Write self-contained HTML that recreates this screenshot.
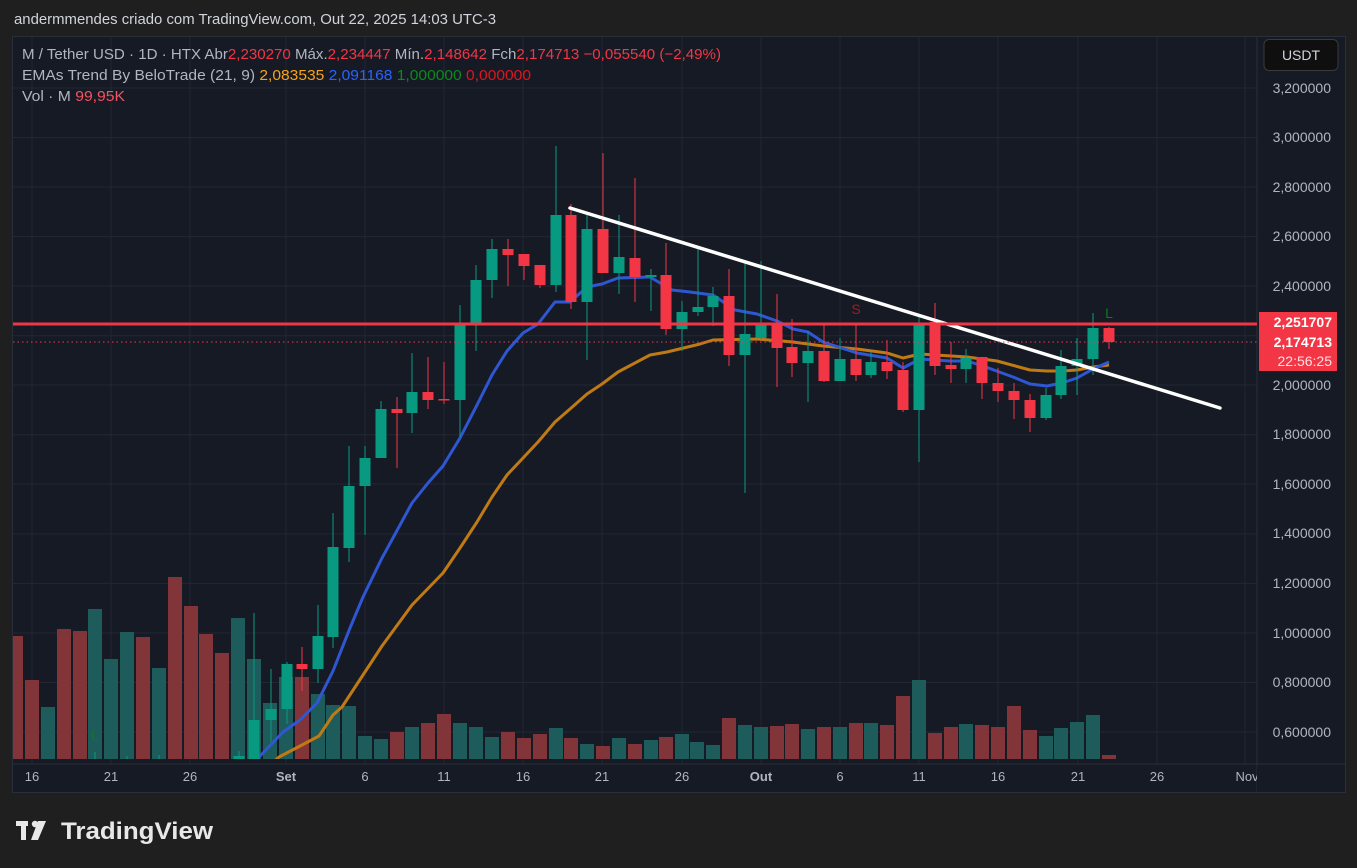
<!DOCTYPE html>
<html><head><meta charset="utf-8"><style>
body{margin:0;width:1357px;height:868px;background:#1f1f1f;overflow:hidden;font-family:"Liberation Sans",sans-serif}
</style></head><body>
<svg width="1357" height="868" xmlns="http://www.w3.org/2000/svg" style="position:absolute;left:0;top:0">
<defs><clipPath id="p"><rect x="13" y="37" width="1244" height="722"/></clipPath></defs>
<text x="14" y="24" fill="#d1d4dc" font-size="15" textLength="482" lengthAdjust="spacingAndGlyphs">andermmendes criado com TradingView.com, Out 22, 2025 14:03 UTC-3</text>
<rect x="12.5" y="36.5" width="1333" height="756" fill="#161a25" stroke="#2a2e39"/>
<line x1="1257" y1="37" x2="1257" y2="792" stroke="#2a2e39"/>
<line x1="13" y1="764" x2="1345" y2="764" stroke="#2a2e39"/>
<g stroke="#232733" stroke-width="1">
<line x1="13" y1="88" x2="1257" y2="88"/><line x1="13" y1="137.5" x2="1257" y2="137.5"/><line x1="13" y1="187" x2="1257" y2="187"/><line x1="13" y1="236.6" x2="1257" y2="236.6"/><line x1="13" y1="286" x2="1257" y2="286"/><line x1="13" y1="335.7" x2="1257" y2="335.7"/><line x1="13" y1="385" x2="1257" y2="385"/><line x1="13" y1="434.8" x2="1257" y2="434.8"/><line x1="13" y1="484" x2="1257" y2="484"/><line x1="13" y1="533.9" x2="1257" y2="533.9"/><line x1="13" y1="583.4" x2="1257" y2="583.4"/><line x1="13" y1="633" x2="1257" y2="633"/><line x1="13" y1="682.5" x2="1257" y2="682.5"/><line x1="13" y1="732" x2="1257" y2="732"/>
<line x1="32" y1="37" x2="32" y2="764"/><line x1="111" y1="37" x2="111" y2="764"/><line x1="190" y1="37" x2="190" y2="764"/><line x1="286" y1="37" x2="286" y2="764"/><line x1="365" y1="37" x2="365" y2="764"/><line x1="444" y1="37" x2="444" y2="764"/><line x1="523" y1="37" x2="523" y2="764"/><line x1="602" y1="37" x2="602" y2="764"/><line x1="682" y1="37" x2="682" y2="764"/><line x1="761" y1="37" x2="761" y2="764"/><line x1="840" y1="37" x2="840" y2="764"/><line x1="919" y1="37" x2="919" y2="764"/><line x1="998" y1="37" x2="998" y2="764"/><line x1="1078" y1="37" x2="1078" y2="764"/><line x1="1157" y1="37" x2="1157" y2="764"/><line x1="1245" y1="37" x2="1245" y2="764"/>
</g>
<g clip-path="url(#p)">
<g fill="#823539">
<rect x="9" y="636" width="14" height="123"/><rect x="25" y="680" width="14" height="79"/><rect x="57" y="629" width="14" height="130"/><rect x="73" y="631" width="14" height="128"/><rect x="136" y="637" width="14" height="122"/><rect x="168" y="577" width="14" height="182"/><rect x="184" y="606" width="14" height="153"/><rect x="199" y="634" width="14" height="125"/><rect x="215" y="653" width="14" height="106"/><rect x="295" y="677" width="14" height="82"/><rect x="390" y="732" width="14" height="27"/><rect x="421" y="723" width="14" height="36"/><rect x="437" y="714" width="14" height="45"/><rect x="501" y="732" width="14" height="27"/><rect x="517" y="738" width="14" height="21"/><rect x="533" y="734" width="14" height="25"/><rect x="564" y="738" width="14" height="21"/><rect x="596" y="746" width="14" height="13"/><rect x="628" y="744" width="14" height="15"/><rect x="659" y="737" width="14" height="22"/><rect x="722" y="718" width="14" height="41"/><rect x="770" y="726" width="14" height="33"/><rect x="785" y="724" width="14" height="35"/><rect x="817" y="727" width="14" height="32"/><rect x="849" y="723" width="14" height="36"/><rect x="880" y="725" width="14" height="34"/><rect x="896" y="696" width="14" height="63"/><rect x="928" y="733" width="14" height="26"/><rect x="944" y="727" width="14" height="32"/><rect x="975" y="725" width="14" height="34"/><rect x="991" y="727" width="14" height="32"/><rect x="1007" y="706" width="14" height="53"/><rect x="1023" y="730" width="14" height="29"/><rect x="1102" y="755" width="14" height="4"/>
</g>
<g fill="#1e5c5b">
<rect x="41" y="707" width="14" height="52"/><rect x="88" y="609" width="14" height="150"/><rect x="104" y="659" width="14" height="100"/><rect x="120" y="632" width="14" height="127"/><rect x="152" y="668" width="14" height="91"/><rect x="231" y="618" width="14" height="141"/><rect x="247" y="659" width="14" height="100"/><rect x="263" y="703" width="14" height="56"/><rect x="279" y="677" width="14" height="82"/><rect x="311" y="694" width="14" height="65"/><rect x="326" y="705" width="14" height="54"/><rect x="342" y="706" width="14" height="53"/><rect x="358" y="736" width="14" height="23"/><rect x="374" y="739" width="14" height="20"/><rect x="405" y="727" width="14" height="32"/><rect x="453" y="723" width="14" height="36"/><rect x="469" y="727" width="14" height="32"/><rect x="485" y="737" width="14" height="22"/><rect x="549" y="728" width="14" height="31"/><rect x="580" y="744" width="14" height="15"/><rect x="612" y="738" width="14" height="21"/><rect x="644" y="740" width="14" height="19"/><rect x="675" y="734" width="14" height="25"/><rect x="690" y="742" width="14" height="17"/><rect x="706" y="745" width="14" height="14"/><rect x="738" y="725" width="14" height="34"/><rect x="754" y="727" width="14" height="32"/><rect x="801" y="729" width="14" height="30"/><rect x="833" y="727" width="14" height="32"/><rect x="864" y="723" width="14" height="36"/><rect x="912" y="680" width="14" height="79"/><rect x="959" y="724" width="14" height="35"/><rect x="1039" y="736" width="14" height="23"/><rect x="1054" y="728" width="14" height="31"/><rect x="1070" y="722" width="14" height="37"/><rect x="1086" y="715" width="14" height="44"/>
</g>
<polyline fill="none" stroke="#c07a14" stroke-width="3" stroke-linejoin="round" points="270,765 279,757 302,745 319,736 333,715 342,707 363,675 382,646 412,605 443,573 460,548 477,522 492,497 507,475 523,458 538,442 555,422 570,409 587,394 602,384 618,372 650,355 667,352 700,344 713,340 757,339 793,342 823,346 857,349 887,353 903,358 920,354 967,357 997,361 1030,370 1047,371 1062,371 1077,370 1093,367 1109,365"/>
<polyline fill="none" stroke="#2f57d3" stroke-width="3" stroke-linejoin="round" points="250,765 260,756 283,732 300,720 317,703 333,671 350,628 363,597 382,558 412,503 428,483 443,466 460,438 477,405 492,375 507,351 523,333 538,324 555,302 570,302 587,287 602,284 618,278 650,277 672,290 690,292 713,295 735,310 757,314 777,321 793,329 808,332 823,342 857,353 887,358 903,368 920,359 950,361 967,361 983,366 1013,377 1030,384 1047,386 1062,383 1077,378 1093,369 1109,362"/>
<g fill="#089981" stroke="#089981">
<line x1="95" y1="752" x2="95" y2="760"/><line x1="127" y1="756" x2="127" y2="760"/><line x1="159" y1="755" x2="159" y2="760"/><rect x="233.5" y="756" width="11" height="4" stroke="none"/><line x1="239" y1="751" x2="239" y2="760"/>
<line x1="254" y1="613" x2="254" y2="760"/><rect x="248.5" y="720" width="11" height="40" stroke="none"/>
<line x1="271" y1="669" x2="271" y2="742"/><rect x="265.5" y="709" width="11" height="11" stroke="none"/>
<line x1="287" y1="662" x2="287" y2="724"/><rect x="281.5" y="664" width="11" height="45" stroke="none"/>
<line x1="318" y1="605" x2="318" y2="683"/><rect x="312.5" y="636" width="11" height="33" stroke="none"/>
<line x1="333" y1="513" x2="333" y2="648"/><rect x="327.5" y="547" width="11" height="90" stroke="none"/>
<line x1="349" y1="446" x2="349" y2="562"/><rect x="343.5" y="486" width="11" height="62" stroke="none"/>
<line x1="365" y1="446" x2="365" y2="535"/><rect x="359.5" y="458" width="11" height="28" stroke="none"/>
<line x1="381" y1="401" x2="381" y2="458"/><rect x="375.5" y="409" width="11" height="49" stroke="none"/>
<line x1="412" y1="353" x2="412" y2="433"/><rect x="406.5" y="392" width="11" height="21" stroke="none"/>
<line x1="460" y1="305" x2="460" y2="437"/><rect x="454.5" y="324" width="11" height="76" stroke="none"/>
<line x1="476" y1="265" x2="476" y2="351"/><rect x="470.5" y="280" width="11" height="45" stroke="none"/>
<line x1="492" y1="239" x2="492" y2="298"/><rect x="486.5" y="249" width="11" height="31" stroke="none"/>
<line x1="556" y1="146" x2="556" y2="292"/><rect x="550.5" y="215" width="11" height="70" stroke="none"/>
<line x1="587" y1="215" x2="587" y2="360"/><rect x="581.5" y="229" width="11" height="73" stroke="none"/>
<line x1="619" y1="215" x2="619" y2="294"/><rect x="613.5" y="257" width="11" height="16" stroke="none"/>
<line x1="651" y1="269" x2="651" y2="311"/><rect x="645.5" y="275" width="11" height="2" stroke="none"/>
<line x1="682" y1="301" x2="682" y2="351"/><rect x="676.5" y="312" width="11" height="17" stroke="none"/>
<line x1="698" y1="247" x2="698" y2="316"/><rect x="692.5" y="307" width="11" height="5" stroke="none"/>
<line x1="713" y1="287" x2="713" y2="326"/><rect x="707.5" y="296" width="11" height="11" stroke="none"/>
<line x1="745" y1="261" x2="745" y2="493"/><rect x="739.5" y="334" width="11" height="21" stroke="none"/>
<line x1="761" y1="261" x2="761" y2="339"/><rect x="755.5" y="325" width="11" height="13" stroke="none"/>
<line x1="808" y1="331" x2="808" y2="402"/><rect x="802.5" y="351" width="11" height="12" stroke="none"/>
<line x1="840" y1="338" x2="840" y2="381"/><rect x="834.5" y="359" width="11" height="22" stroke="none"/>
<line x1="871" y1="352" x2="871" y2="378"/><rect x="865.5" y="362" width="11" height="13" stroke="none"/>
<line x1="919" y1="314" x2="919" y2="462"/><rect x="913.5" y="325" width="11" height="85" stroke="none"/>
<line x1="966" y1="349" x2="966" y2="383"/><rect x="960.5" y="358" width="11" height="11" stroke="none"/>
<line x1="1046" y1="388" x2="1046" y2="420"/><rect x="1040.5" y="395" width="11" height="23" stroke="none"/>
<line x1="1061" y1="350" x2="1061" y2="399"/><rect x="1055.5" y="366" width="11" height="29" stroke="none"/>
<line x1="1077" y1="338" x2="1077" y2="395"/><rect x="1071.5" y="359" width="11" height="7" stroke="none"/>
<line x1="1093" y1="313" x2="1093" y2="375"/><rect x="1087.5" y="328" width="11" height="31" stroke="none"/>
</g>
<g fill="#f23645" stroke="#f23645">
<line x1="302" y1="647" x2="302" y2="691"/><rect x="296.5" y="664" width="11" height="5" stroke="none"/>
<line x1="397" y1="397" x2="397" y2="468"/><rect x="391.5" y="409" width="11" height="4" stroke="none"/>
<line x1="428" y1="357" x2="428" y2="409"/><rect x="422.5" y="392" width="11" height="8" stroke="none"/>
<line x1="444" y1="362" x2="444" y2="404"/><rect x="438.5" y="399" width="11" height="1.5" stroke="none"/>
<line x1="508" y1="239" x2="508" y2="286"/><rect x="502.5" y="249" width="11" height="6" stroke="none"/>
<line x1="524" y1="254" x2="524" y2="280"/><rect x="518.5" y="254" width="11" height="12" stroke="none"/>
<line x1="540" y1="265" x2="540" y2="288"/><rect x="534.5" y="265" width="11" height="20" stroke="none"/>
<line x1="571" y1="204" x2="571" y2="309"/><rect x="565.5" y="215" width="11" height="87" stroke="none"/>
<line x1="603" y1="153" x2="603" y2="273"/><rect x="597.5" y="229" width="11" height="44" stroke="none"/>
<line x1="635" y1="178" x2="635" y2="302"/><rect x="629.5" y="258" width="11" height="19" stroke="none"/>
<line x1="666" y1="243" x2="666" y2="335"/><rect x="660.5" y="275" width="11" height="54" stroke="none"/>
<line x1="729" y1="269" x2="729" y2="366"/><rect x="723.5" y="296" width="11" height="59" stroke="none"/>
<line x1="777" y1="294" x2="777" y2="387"/><rect x="771.5" y="325" width="11" height="23" stroke="none"/>
<line x1="792" y1="319" x2="792" y2="377"/><rect x="786.5" y="347" width="11" height="16" stroke="none"/>
<line x1="824" y1="325" x2="824" y2="382"/><rect x="818.5" y="351" width="11" height="30" stroke="none"/>
<line x1="856" y1="325" x2="856" y2="381"/><rect x="850.5" y="359" width="11" height="16" stroke="none"/>
<line x1="887" y1="340" x2="887" y2="379"/><rect x="881.5" y="362" width="11" height="9" stroke="none"/>
<line x1="903" y1="362" x2="903" y2="412"/><rect x="897.5" y="370" width="11" height="40" stroke="none"/>
<line x1="935" y1="303" x2="935" y2="375"/><rect x="929.5" y="322" width="11" height="44" stroke="none"/>
<line x1="951" y1="342" x2="951" y2="383"/><rect x="945.5" y="365" width="11" height="4" stroke="none"/>
<line x1="982" y1="357" x2="982" y2="399"/><rect x="976.5" y="357" width="11" height="26" stroke="none"/>
<line x1="998" y1="368" x2="998" y2="402"/><rect x="992.5" y="383" width="11" height="8" stroke="none"/>
<line x1="1014" y1="383" x2="1014" y2="419"/><rect x="1008.5" y="391" width="11" height="9" stroke="none"/>
<line x1="1030" y1="394" x2="1030" y2="432"/><rect x="1024.5" y="400" width="11" height="18" stroke="none"/>
<line x1="1109" y1="327" x2="1109" y2="349"/><rect x="1103.5" y="328" width="11" height="14" stroke="none"/>
</g>
<line x1="570" y1="208" x2="1220" y2="408" stroke="#ffffff" stroke-width="3.5" stroke-linecap="round"/>
<line x1="13" y1="342" x2="1257" y2="342" stroke="#f23645" stroke-width="1" stroke-dasharray="1.5,3"/>
<line x1="13" y1="324" x2="1257" y2="324" stroke="#f23645" stroke-width="3"/>
<text x="856" y="314" fill="#a01a24" font-size="14" text-anchor="middle">S</text>
<text x="1109" y="318" fill="#0b7a1e" font-size="14" text-anchor="middle">L</text>
<text x="95" y="740" fill="#0b7a1e" font-size="14" text-anchor="middle">L</text>
</g>
<text x="22" y="59" font-size="15" fill="#b2b5be" textLength="699" lengthAdjust="spacingAndGlyphs">M / Tether USD · 1D · HTX  Abr<tspan fill="#f23645">2,230270</tspan>  Máx.<tspan fill="#f23645">2,234447</tspan>  Mín.<tspan fill="#f23645">2,148642</tspan>  Fch<tspan fill="#f23645">2,174713  −0,055540 (−2,49%)</tspan></text>
<text x="22" y="80" font-size="15" fill="#b2b5be" textLength="509" lengthAdjust="spacingAndGlyphs">EMAs Trend By BeloTrade (21, 9)  <tspan fill="#f7a21b">2,083535</tspan>  <tspan fill="#2962ff">2,091168</tspan>  <tspan fill="#0b8a1a">1,000000</tspan>  <tspan fill="#e0141e">0,000000</tspan></text>
<text x="22" y="101" font-size="15" fill="#b2b5be" textLength="103" lengthAdjust="spacingAndGlyphs">Vol · M  <tspan fill="#f7525f">99,95K</tspan></text>
<rect x="1264" y="39.5" width="74" height="31" rx="5" fill="#0f0f0f" stroke="#3a3a3a"/>
<text x="1301" y="60" font-size="14" fill="#d1d4dc" text-anchor="middle">USDT</text>
<g font-size="14" fill="#b2b5be" text-anchor="end">
<text x="1331" y="93">3,200000</text><text x="1331" y="142">3,000000</text><text x="1331" y="192">2,800000</text><text x="1331" y="241">2,600000</text><text x="1331" y="291">2,400000</text><text x="1331" y="390">2,000000</text><text x="1331" y="439">1,800000</text><text x="1331" y="489">1,600000</text><text x="1331" y="538">1,400000</text><text x="1331" y="588">1,200000</text><text x="1331" y="638">1,000000</text><text x="1331" y="687">0,800000</text><text x="1331" y="737">0,600000</text>
</g>
<rect x="1259" y="312" width="78" height="59" fill="#f23645"/>
<g font-size="14" text-anchor="end" font-weight="bold" fill="#ffffff">
<text x="1332" y="327">2,251707</text><text x="1332" y="347">2,174713</text>
</g>
<text x="1332" y="366" font-size="14" text-anchor="end" fill="#ffe0e2">22:56:25</text>
<g font-size="13" fill="#b2b5be" text-anchor="middle">
<text x="32" y="781">16</text><text x="111" y="781">21</text><text x="190" y="781">26</text><text x="286" y="781" font-weight="bold">Set</text><text x="365" y="781">6</text><text x="444" y="781">11</text><text x="523" y="781">16</text><text x="602" y="781">21</text><text x="682" y="781">26</text><text x="761" y="781" font-weight="bold">Out</text><text x="840" y="781">6</text><text x="919" y="781">11</text><text x="998" y="781">16</text><text x="1078" y="781">21</text><text x="1157" y="781">26</text><text x="1247" y="781">Nov</text>
</g>
<rect x="1257" y="765" width="88" height="27" fill="#161a25"/>
<g fill="#e8e8e8">
<rect x="16" y="821" width="12" height="5"/><rect x="21" y="821" width="5" height="19"/>
<circle cx="35" cy="824" r="3.2"/>
<polygon points="38,821 46,821 38,840 31,840"/>
</g>
<text x="61" y="839" font-size="24" font-weight="bold" fill="#e8e8e8" textLength="152" lengthAdjust="spacingAndGlyphs">TradingView</text>
</svg>
</body></html>
